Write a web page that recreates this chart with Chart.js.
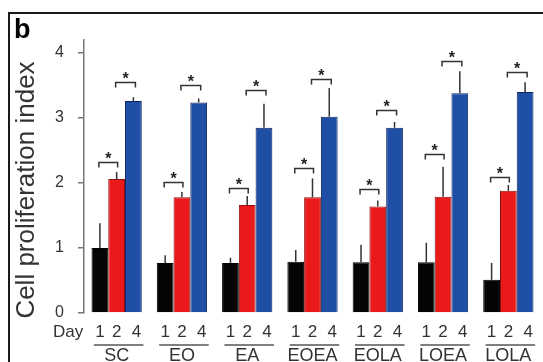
<!DOCTYPE html>
<html>
<head>
<meta charset="utf-8">
<script src="https://cdn.jsdelivr.net/npm/chart.js@4"></script>
<style>
  html, body { margin: 0; padding: 0; background: #fff; }
  #wrap { width: 543px; height: 362px; }
</style>
</head>
<body>
<div id="wrap"><canvas id="BarChart" width="543" height="362"></canvas></div>
<script>
// values
const groups = ['SC', 'EO', 'EA', 'EOEA', 'EOLA', 'LOEA', 'LOLA'];
const days = ['1', '2', '4'];
const day1 = [1.00, 0.77, 0.77, 0.79, 0.78, 0.78, 0.51];
const day2 = [2.06, 1.78, 1.66, 1.78, 1.64, 1.79, 1.88];
const day4 = [3.26, 3.24, 2.85, 3.02, 2.85, 3.38, 3.40];
const err1 = [0.38, 0.12, 0.08, 0.18, 0.27, 0.30, 0.26];
const err2 = [0.11, 0.08, 0.14, 0.29, 0.09, 0.46, 0.09];
const err4 = [0.06, 0.06, 0.37, 0.44, 0.09, 0.34, 0.15];
// heights of the significance brackets (day1 vs day2, day2 vs day4)
const sig12 = [2.33, 2.02, 1.92, 2.23, 1.91, 2.45, 2.10];
const sig24 = [3.56, 3.51, 3.43, 3.60, 3.12, 3.87, 3.71];
const yTicks = [0, 1, 2, 3, 4];

const FONT = '"Liberation Sans", Arial, sans-serif';
const errors = [err1, err2, err4];

const extras = {
    id: 'extras',
    beforeDraw(chart) {
        const c = chart.ctx;
        c.save();
        c.fillStyle = '#fff';
        c.fillRect(0, 0, chart.width, chart.height);
        c.restore();
    },
    afterDatasetsDraw(chart) {
        const c = chart.ctx;
        const y = chart.scales.y;
        c.save();
        // error bars (upper only)
        c.strokeStyle = '#333';
        c.lineWidth = 1.5;
        errors.forEach((err, d) => {
            const meta = chart.getDatasetMeta(d);
            meta.data.forEach((bar, i) => {
                const v = chart.data.datasets[d].data[i];
                c.beginPath();
                c.moveTo(bar.x, y.getPixelForValue(v));
                c.lineTo(bar.x, y.getPixelForValue(v + err[i]));
                c.stroke();
            });
        });
        // significance brackets
        const m0 = chart.getDatasetMeta(0).data;
        const m1 = chart.getDatasetMeta(1).data;
        const m2 = chart.getDatasetMeta(2).data;
        const bracket = (x1, x2, val) => {
            const py = Math.round(y.getPixelForValue(val)) + 0.5;
            c.strokeStyle = '#333';
            c.lineWidth = 1.5;
            c.beginPath();
            c.moveTo(x1, py + 5);
            c.lineTo(x1, py);
            c.lineTo(x2, py);
            c.lineTo(x2, py + 5);
            c.stroke();
            c.fillStyle = '#222';
            c.font = 'bold 16px ' + FONT;
            c.textAlign = 'center';
            c.textBaseline = 'alphabetic';
            c.fillText('*', (x1 + x2) / 2, py + 1);
        };
        groups.forEach((g, i) => {
            bracket(m0[i].x - 1, m1[i].x + 1, sig12[i]);
            bracket(m1[i].x - 1, m2[i].x + 2, sig24[i]);
        });
        c.restore();
    },
    afterDraw(chart) {
        const c = chart.ctx;
        const m0 = chart.getDatasetMeta(0).data;
        const m1 = chart.getDatasetMeta(1).data;
        const m2 = chart.getDatasetMeta(2).data;
        c.save();
        // day labels, underline and group names
        c.fillStyle = '#333';
        c.textAlign = 'center';
        c.textBaseline = 'middle';
        c.font = '17px ' + FONT;
        groups.forEach((g, i) => {
            [m0[i], m1[i], m2[i]].forEach((bar, d) => {
                c.fillText(days[d], bar.x + (d === 2 ? 3 : 0), 332);
            });
            c.strokeStyle = '#555';
            c.lineWidth = 1.5;
            c.beginPath();
            c.moveTo(m0[i].x - 6, 345);
            c.lineTo(m2[i].x + 10, 345);
            c.stroke();
        });
        c.font = '18px ' + FONT;
        c.textBaseline = 'alphabetic';
        groups.forEach((g, i) => {
            c.fillText(g, m1[i].x, 361);
        });
        c.font = '17px ' + FONT;
        c.textAlign = 'left';
        c.textBaseline = 'middle';
        c.fillText('Day', 53, 332);
        // y title
        c.save();
        c.translate(34, 190);
        c.rotate(-Math.PI / 2);
        c.font = '26px ' + FONT;
        c.textAlign = 'center';
        c.textBaseline = 'alphabetic';
        c.fillStyle = '#333';
        c.fillText('Cell proliferation index', 0, 0);
        c.restore();
        // panel letter
        c.fillStyle = '#000';
        c.font = 'bold 27px ' + FONT;
        c.textAlign = 'left';
        c.textBaseline = 'alphabetic';
        c.fillText('b', 14, 38);
        // frame
        c.strokeStyle = '#1a1a1a';
        c.lineWidth = 2;
        c.beginPath();
        c.moveTo(9, chart.height);
        c.lineTo(9, 13);
        c.lineTo(chart.width, 13);
        c.stroke();
        c.restore();
    }
};

const ctxBar = document.getElementById('BarChart').getContext('2d');
new Chart(ctxBar, {
    type: 'bar',
    data: {
        labels: groups,
        datasets: [
            { label: days[0], data: day1, backgroundColor: '#050505', borderColor: '#000', borderWidth: 1 },
            { label: days[1], data: day2, backgroundColor: '#ea1a1a', borderColor: '#8a0f0f', borderWidth: 1 },
            { label: days[2], data: day4, backgroundColor: '#1f4ea6', borderColor: '#0e2560', borderWidth: 1 }
        ]
    },
    options: {
        responsive: false,
        animation: false,
        devicePixelRatio: 1,
        layout: { padding: { top: 40, right: 2, bottom: 49, left: 0 } },
        datasets: {
            bar: { categoryPercentage: 0.77, barPercentage: 1.0 }
        },
        plugins: {
            legend: { display: false },
            tooltip: { enabled: false }
        },
        scales: {
            x: { display: false },
            y: {
                min: 0,
                max: 4.2,
                afterBuildTicks(scale) {
                    scale.ticks = yTicks.map(v => ({ value: v }));
                },
                afterFit(scale) {
                    scale.width = 84;
                },
                ticks: {
                    color: '#333',
                    padding: 14,
                    font: { family: FONT, size: 16 }
                },
                grid: {
                    drawOnChartArea: false,
                    drawTicks: true,
                    tickLength: 6,
                    color: '#777',
                    lineWidth: 1.5
                },
                border: { color: '#777', width: 1.5 }
            }
        }
    },
    plugins: [extras]
});
</script>
</body>
</html>
